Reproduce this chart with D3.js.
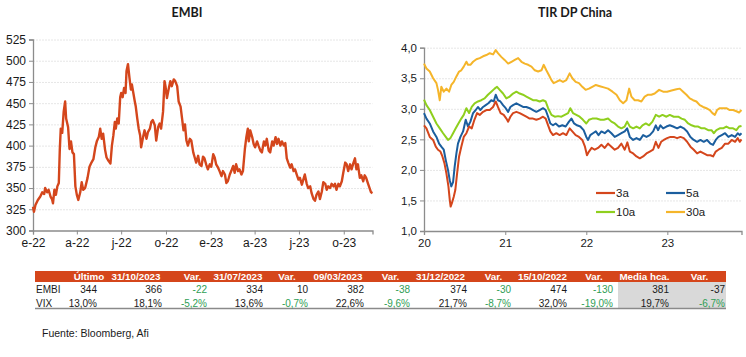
<!DOCTYPE html>
<html><head><meta charset="utf-8">
<script src="https://cdn.jsdelivr.net/npm/d3@7"></script>
<style>
html,body{margin:0;padding:0;background:#fff;}
svg{display:block;font-family:"Liberation Sans",Arial,sans-serif;}
</style></head>
<body>
<svg id="c" width="746" height="357"></svg>
<script>
// ---------------- DATA ----------------
// EMBI: [days since 2022-01-01, spread bp]
const embi = [[0,328],[2,322],[5,330],[10,336],[15,340],[19,345],[23,343],[25,350],[29,345],[32,348],[36,340],[39,337],[41,332],[44,348],[47,342],[50,352],[53,356],[55,395],[57,420],[60,415],[63,440],[66,452],[68,432],[72,422],[75,396],[78,405],[81,392],[84,390],[87,352],[90,342],[93,336],[97,345],[100,357],[103,348],[107,350],[112,362],[116,375],[120,380],[124,384],[128,398],[131,405],[135,410],[138,420],[141,408],[144,414],[148,395],[151,386],[155,382],[159,379],[162,400],[165,412],[168,428],[170,420],[173,432],[176,426],[179,457],[181,462],[184,457],[187,468],[190,462],[192,488],[195,496],[198,480],[201,466],[203,472],[206,462],[209,452],[211,446],[214,432],[217,420],[220,412],[222,398],[226,410],[229,418],[233,408],[236,416],[240,420],[243,428],[246,430],[250,424],[253,406],[257,422],[260,426],[263,420],[267,440],[270,476],[272,470],[275,456],[279,468],[282,476],[285,470],[289,478],[292,476],[296,470],[299,452],[303,446],[306,432],[309,418],[312,425],[315,406],[318,400],[322,408],[325,406],[329,392],[332,386],[335,380],[339,388],[342,378],[346,376],[349,387],[352,385],[356,377],[359,372],[363,378],[366,375],[370,390],[373,386],[376,378],[380,374],[383,370],[387,364],[390,370],[394,366],[397,356],[400,358],[404,366],[407,370],[411,376],[414,368],[417,378],[421,370],[424,372],[428,366],[431,370],[435,396],[438,410],[441,420],[443,405],[446,418],[450,410],[453,402],[456,398],[460,405],[463,400],[467,394],[470,392],[474,405],[477,400],[480,408],[484,394],[487,392],[491,405],[494,400],[498,410],[501,402],[504,408],[508,400],[511,405],[515,400],[518,403],[521,385],[524,380],[528,374],[531,378],[535,370],[538,372],[542,365],[545,360],[548,362],[552,354],[555,360],[558,366],[562,355],[565,350],[569,352],[572,344],[576,337],[579,335],[582,342],[586,346],[589,337],[593,346],[596,357],[600,355],[603,348],[606,352],[610,350],[613,355],[617,352],[620,355],[623,348],[627,355],[630,352],[634,358],[637,368],[641,380],[644,378],[647,370],[651,378],[654,372],[658,380],[661,385],[664,372],[667,378],[671,362],[674,365],[678,358],[681,365],[684,362],[688,355],[691,350],[694,345],[697,344]];
const embiTicks = [0,90,181,273,365,455,546,638];
const embiTickLabels = ["e-22","a-22","j-22","o-22","e-23","a-23","j-23","o-23"];
const embiYTicks = [300,325,350,375,400,425,450,475,500,525];

// TIR DP China: [days since 2020-01-01, yield %]
const tir3a = [[0,2.73],[11,2.68],[26,2.54],[41,2.49],[53,2.38],[63,2.33],[74,2.30],[83,2.22],[92,2.11],[101,1.94],[110,1.73],[116,1.51],[120,1.40],[126,1.46],[134,1.56],[141,1.67],[149,1.94],[158,2.22],[168,2.38],[179,2.54],[191,2.60],[203,2.71],[215,2.68],[227,2.82],[239,2.93],[251,2.90],[266,2.95],[281,2.98],[296,2.98],[311,3.03],[323,3.12],[333,3.03],[345,2.93],[359,2.90],[371,2.84],[379,2.79],[389,2.87],[401,2.93],[416,2.95],[431,2.93],[446,2.90],[461,2.87],[476,2.84],[491,2.84],[506,2.82],[521,2.84],[536,2.87],[548,2.84],[559,2.73],[569,2.63],[581,2.57],[596,2.60],[611,2.57],[626,2.60],[641,2.57],[656,2.68],[668,2.63],[683,2.57],[698,2.54],[713,2.49],[725,2.38],[734,2.24],[743,2.30],[755,2.36],[769,2.33],[784,2.36],[799,2.41],[814,2.36],[829,2.43],[844,2.38],[859,2.33],[874,2.36],[889,2.43],[904,2.33],[916,2.45],[927,2.30],[942,2.27],[957,2.22],[972,2.19],[987,2.22],[1002,2.27],[1017,2.30],[1032,2.33],[1044,2.46],[1056,2.36],[1068,2.46],[1080,2.49],[1095,2.52],[1110,2.54],[1125,2.54],[1140,2.52],[1155,2.54],[1170,2.52],[1185,2.46],[1200,2.38],[1215,2.33],[1230,2.27],[1245,2.30],[1260,2.27],[1275,2.24],[1290,2.24],[1302,2.22],[1314,2.30],[1326,2.33],[1341,2.36],[1356,2.43],[1371,2.43],[1386,2.49],[1401,2.46],[1413,2.52],[1422,2.46],[1430,2.50]];
const tir5a = [[0,2.93],[11,2.84],[26,2.76],[41,2.63],[56,2.54],[68,2.43],[78,2.38],[89,2.33],[98,2.16],[108,2.00],[116,1.83],[123,1.73],[131,1.80],[138,2.05],[146,2.27],[153,2.43],[164,2.54],[176,2.63],[188,2.82],[198,2.71],[209,2.79],[221,2.93],[233,2.98],[243,3.03],[254,2.98],[266,3.03],[278,3.06],[290,3.09],[303,3.14],[314,3.12],[323,3.23],[333,3.14],[344,3.12],[356,3.06],[368,3.01],[379,2.95],[389,3.03],[401,3.06],[416,3.09],[431,3.06],[446,3.03],[461,3.03],[476,3.01],[491,2.98],[506,2.95],[521,2.98],[536,3.01],[548,2.98],[559,2.87],[569,2.76],[581,2.73],[593,2.76],[608,2.71],[623,2.73],[638,2.71],[653,2.79],[664,2.84],[676,2.76],[689,2.73],[704,2.71],[719,2.65],[731,2.54],[739,2.49],[749,2.57],[761,2.60],[774,2.63],[786,2.57],[799,2.63],[814,2.60],[829,2.65],[844,2.60],[859,2.54],[874,2.57],[889,2.60],[904,2.63],[915,2.68],[927,2.54],[942,2.49],[957,2.52],[972,2.49],[987,2.57],[1002,2.54],[1017,2.57],[1032,2.63],[1044,2.73],[1054,2.65],[1065,2.73],[1077,2.68],[1092,2.71],[1107,2.73],[1122,2.71],[1140,2.68],[1155,2.71],[1170,2.68],[1185,2.63],[1200,2.54],[1215,2.49],[1230,2.46],[1245,2.49],[1260,2.46],[1275,2.49],[1290,2.43],[1302,2.41],[1314,2.49],[1326,2.54],[1341,2.57],[1356,2.60],[1371,2.54],[1386,2.57],[1401,2.54],[1413,2.60],[1422,2.57],[1430,2.60]];
const tir10a = [[0,3.15],[11,3.06],[26,2.98],[41,2.87],[56,2.76],[71,2.68],[86,2.60],[98,2.54],[108,2.49],[119,2.52],[131,2.60],[143,2.68],[155,2.76],[168,2.84],[179,2.90],[191,3.01],[203,2.93],[215,3.03],[228,3.09],[243,3.12],[258,3.14],[273,3.17],[288,3.23],[303,3.28],[318,3.33],[329,3.36],[341,3.31],[356,3.25],[371,3.17],[386,3.20],[401,3.25],[416,3.28],[431,3.25],[446,3.23],[461,3.20],[476,3.17],[491,3.14],[506,3.14],[521,3.12],[536,3.14],[548,3.12],[559,3.01],[574,2.90],[589,2.87],[604,2.88],[619,2.87],[634,2.90],[649,2.93],[659,3.01],[671,2.93],[686,2.90],[701,2.87],[716,2.82],[731,2.76],[743,2.82],[758,2.84],[777,2.84],[795,2.82],[810,2.82],[829,2.84],[844,2.79],[859,2.76],[874,2.71],[889,2.68],[904,2.71],[915,2.79],[927,2.71],[942,2.68],[957,2.71],[972,2.68],[984,2.73],[999,2.76],[1014,2.73],[1029,2.79],[1044,2.90],[1059,2.87],[1074,2.90],[1092,2.87],[1107,2.90],[1125,2.87],[1145,2.87],[1160,2.84],[1175,2.82],[1190,2.76],[1205,2.73],[1220,2.71],[1235,2.71],[1250,2.68],[1265,2.68],[1280,2.65],[1295,2.65],[1305,2.60],[1317,2.65],[1332,2.68],[1347,2.68],[1362,2.71],[1377,2.68],[1392,2.68],[1407,2.65],[1419,2.71],[1430,2.72]];
const tir30a = [[0,3.74],[11,3.66],[26,3.61],[41,3.50],[56,3.42],[63,3.31],[71,3.14],[78,3.36],[89,3.28],[101,3.33],[113,3.28],[123,3.39],[134,3.44],[146,3.53],[158,3.61],[168,3.63],[179,3.69],[191,3.77],[198,3.72],[209,3.72],[221,3.77],[236,3.81],[251,3.83],[266,3.86],[281,3.88],[296,3.91],[311,3.89],[323,3.96],[333,3.91],[348,3.85],[363,3.80],[379,3.74],[394,3.77],[409,3.80],[424,3.83],[439,3.77],[454,3.74],[469,3.72],[484,3.69],[499,3.63],[514,3.61],[529,3.63],[539,3.72],[551,3.63],[563,3.55],[574,3.47],[584,3.42],[596,3.44],[611,3.47],[626,3.44],[641,3.47],[656,3.58],[668,3.50],[683,3.44],[698,3.42],[713,3.36],[728,3.31],[743,3.33],[758,3.36],[774,3.39],[792,3.37],[810,3.35],[829,3.33],[849,3.28],[867,3.23],[882,3.14],[897,3.09],[912,3.14],[924,3.33],[934,3.20],[949,3.14],[964,3.14],[979,3.12],[994,3.20],[1009,3.23],[1024,3.23],[1039,3.25],[1059,3.31],[1077,3.28],[1095,3.28],[1115,3.30],[1137,3.32],[1152,3.33],[1167,3.28],[1182,3.23],[1197,3.17],[1212,3.14],[1227,3.12],[1242,3.06],[1257,3.03],[1272,3.01],[1287,2.98],[1299,2.93],[1310,2.90],[1320,2.98],[1332,3.01],[1347,3.01],[1362,3.01],[1377,2.98],[1392,2.98],[1407,2.96],[1419,2.94],[1430,2.98]];
const tirSeriesNames = ["3a","5a","10a","30a"];
const tirYTicks = [1.0,1.5,2.0,2.5,3.0,3.5,4.0];
const tirXTicks = [0,366,731,1096];
const tirXTickLabels = ["20","21","22","23"];

// Table
const tableHeaders = ["Último","31/10/2023","Var.","31/07/2023","Var.","09/03/2023","Var.","31/12/2022","Var.","15/10/2022","Var.","Media hca.","Var."];
const rowNames = ["EMBI","VIX"];
const embiRow = ["344","366","-22","334","10","382","-38","374","-30","474","-130","381","-37"];
const vixRow = ["13,0%","18,1%","-5,2%","13,6%","-0,7%","22,6%","-9,6%","21,7%","-8,7%","32,0%","-19,0%","19,7%","-6,7%"];
const sourceText = "Fuente: Bloomberg, Afi";

// ---------------- DRAW ----------------
const svg = d3.select("#c");
const axisCol = "#8c8c8c", gridCol = "#e6e6e6";
const day0a = new Date(2022,0,1), day0b = new Date(2020,0,1);
const toDate = (base,d) => d3.timeDay.offset(base,d);
const FONT = "'Liberation Sans', Arial, sans-serif";

function drawPanel(opt){
  const g = svg.append("g");
  const x = d3.scaleTime().domain([toDate(opt.base,0), toDate(opt.base,opt.endDay)]).range([opt.x0, opt.x1]);
  const y = d3.scaleLinear().domain(opt.yDomain).range([opt.y0, opt.y1]);
  g.append("g").selectAll("line").data(opt.yTicks.slice(1)).join("line")
    .attr("x1",opt.x0).attr("x2",opt.x1).attr("y1",d=>y(d)+0.5).attr("y2",d=>y(d)+0.5)
    .attr("stroke",gridCol).attr("stroke-width",1).attr("stroke-dasharray","2,1");
  const ya = g.append("g").attr("transform",`translate(${opt.x0},0)`)
    .call(d3.axisLeft(y).tickValues(opt.yTicks).tickSize(4).tickPadding(3).tickFormat(opt.yFmt));
  ya.select(".domain").attr("stroke",axisCol).attr("stroke-width",1.3);
  ya.selectAll(".tick line").attr("stroke",axisCol);
  ya.selectAll("text").attr("font-size",opt.fs).attr("fill","#1a1a1a").attr("font-family",FONT);
  const xa = g.append("g").attr("transform",`translate(0,${opt.y0})`)
    .call(d3.axisBottom(x).tickValues(opt.xTicks.map(d=>toDate(opt.base,d))).tickSize(4).tickPadding(4)
      .tickFormat((d,i)=>opt.xLabels[i]));
  xa.select(".domain").attr("stroke",axisCol).attr("stroke-width",1.3);
  xa.selectAll(".tick line").attr("stroke",axisCol);
  xa.selectAll("text").attr("font-size",opt.fs).attr("fill","#1a1a1a").attr("font-family",FONT);
  svg.append("text").attr("x",opt.tx).attr("y",17).attr("text-anchor","middle")
    .attr("font-family","Lato, 'DejaVu Sans', sans-serif").attr("font-weight","bold").attr("font-size",12.5)
    .attr("fill","#1a1a1a").text(opt.title);
  const line = d3.line().x(d=>x(toDate(opt.base,d[0]))).y(d=>y(d[1]));
  opt.series.forEach(s=>{
    g.append("path").datum(s.data).attr("d",line).attr("fill","none")
      .attr("stroke",s.color).attr("stroke-width",s.w).attr("stroke-linejoin","round");
  });
  return {x,y,g};
}

drawPanel({
  base:day0a, endDay:697, x0:33, x1:372.5, y0:230.5, y1:39.5, yDomain:[300,525],
  yTicks:embiYTicks, yFmt:d3.format("d"), xTicks:embiTicks, xLabels:embiTickLabels,
  fs:12, title:"EMBI", tx:187,
  series:[{data:embi,color:"#d4461c",w:2.4}]
});

const tirColors = ["#d4461c","#1b5e9e","#8fcf1e","#f5b52a"];
const tirData = [tir3a,tir5a,tir10a,tir30a];
drawPanel({
  base:day0b, endDay:1430, x0:424, x1:741.5, y0:231, y1:47.7, yDomain:[1,4],
  yTicks:tirYTicks, yFmt:d=>d3.format(".1f")(d).replace(".",","), xTicks:tirXTicks, xLabels:tirXTickLabels,
  fs:11.5, title:"TIR DP China", tx:575,
  series:[3,2,1,0].map(i=>({data:tirData[i],color:tirColors[i],w:2}))
});

// legend
const lg = svg.append("g");
const legPos = [[596,193],[666,193],[596,212],[666,212]];
tirSeriesNames.forEach((n,i)=>{
  const [lx,ly] = legPos[i];
  lg.append("line").attr("x1",lx).attr("x2",lx+19).attr("y1",ly).attr("y2",ly)
    .attr("stroke",tirColors[i]).attr("stroke-width",2.2);
  lg.append("text").attr("x",lx+20).attr("y",ly+4).attr("font-size",11.5)
    .attr("font-family",FONT).attr("fill","#1a1a1a").text(n);
});

// table
const tg = svg.append("g").attr("font-family",FONT).attr("font-size",10);
tg.append("rect").attr("x",35).attr("y",271).attr("width",691).attr("height",11).attr("fill","#d5461b");
tg.append("rect").attr("x",618).attr("y",282).attr("width",108).attr("height",26).attr("fill","#d9d9d9");
tg.append("line").attr("x1",35).attr("x2",726).attr("y1",308.5).attr("y2",308.5).attr("stroke","#8a8a8a").attr("stroke-width",1.5);
const colRight = [97,162,207,263,308,364,410,467,511,567,613,669,725];
const headCenter = [89,136,192.5,238,287,338,390.5,440.5,493.5,542.5,594,644.5,699.5];
tableHeaders.forEach((h,i)=>{
  tg.append("text").attr("x",headCenter[i]).attr("y",280.3).attr("text-anchor","middle")
    .attr("fill","#fff").attr("font-weight","bold").attr("font-size",9.8).text(h);
});
[embiRow,vixRow].forEach((row,r)=>{
  const yy = 293 + r*13.5;
  tg.append("text").attr("x",36).attr("y",yy).attr("fill","#1a1a1a").text(rowNames[r]);
  row.forEach((v,i)=>{
    const green = tableHeaders[i]==="Var." && v.startsWith("-") && !(r===0 && i===12);
    tg.append("text").attr("x",colRight[i]).attr("y",yy).attr("text-anchor","end")
      .attr("fill",green?"#2f9e55":"#1a1a1a").text(v);
  });
});
svg.append("text").attr("x",42).attr("y",337).attr("font-family",FONT)
  .attr("font-size",10.5).attr("fill","#1a1a1a").text(sourceText);
</script>
</body></html>
